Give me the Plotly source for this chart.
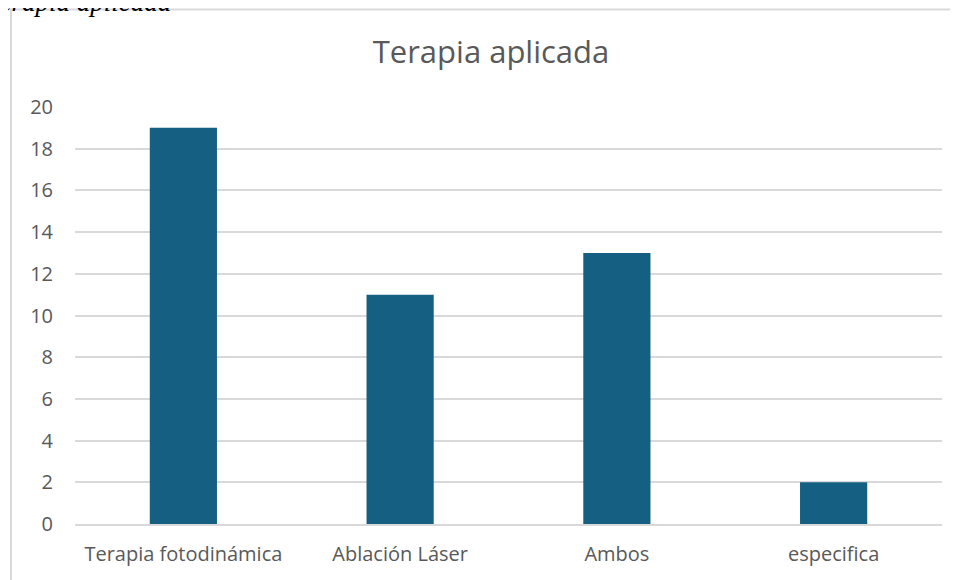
import plotly.graph_objects as go

categories = ["Terapia fotodinámica", "Ablación Láser", "Ambos", "especifica"]
values = [19, 11, 13, 2]
y_ticks = [0, 2, 4, 6, 8, 10, 12, 14, 16, 18, 20]

# page has an 8px body margin; figure pixel = page pixel - 8
OFF = 8
W, H = 950, 572
L, R, T, B = 75 - OFF, 16, 107 - OFF, 56
pw, ph = W - L - R, H - T - B

def px_x(p):
    return (p - OFF - L) / pw

def px_y(p):
    return 1 + (T - (p - OFF)) / ph

FONT = "Open Sans, sans-serif"

fig = go.Figure(go.Bar(x=categories, y=values, marker=dict(color="#156082", line=dict(width=0)),
                       width=0.31))

fig.update_layout(
    width=W, height=H,
    margin=dict(l=L, r=R, t=T, b=B),
    paper_bgcolor="white", plot_bgcolor="white",
    font=dict(family=FONT, color="#595959"),
    title=dict(text="Terapia aplicada", x=(491 - OFF) / W, xanchor="center",
               y=1 - (52 - OFF) / H, yanchor="middle",
               font=dict(size=31, color="#595959")),
    showlegend=False,
    bargap=0.69,
)
fig.update_xaxes(showgrid=False, showline=True, linecolor="#d9d9d9", linewidth=1.5,
                 tickfont=dict(size=20, color="#595959"), ticks="", ticklabelstandoff=11)
fig.update_yaxes(range=[0, 20], tickvals=y_ticks, showgrid=True, gridcolor="#d9d9d9", gridwidth=1.5,
                 zeroline=False, showline=False, tickfont=dict(size=20, color="#595959"),
                 ticks="", ticklabelstandoff=21)

# outer chart border
fig.add_shape(type="rect", xref="paper", yref="paper",
              x0=px_x(11), x1=px_x(1000), y0=px_y(640), y1=px_y(9.5),
              line=dict(color="#d9d9d9", width=2), fillcolor="rgba(0,0,0,0)", layer="below")

# cropped caption above the chart
fig.add_annotation(text="<i>Terapia aplicada</i>", xref="paper", yref="paper",
                   x=px_x(173), y=px_y(19), xanchor="right", yanchor="bottom", showarrow=False,
                   font=dict(family="Liberation Serif", size=27, color="#000000"))

fig.write_html("out.html")
